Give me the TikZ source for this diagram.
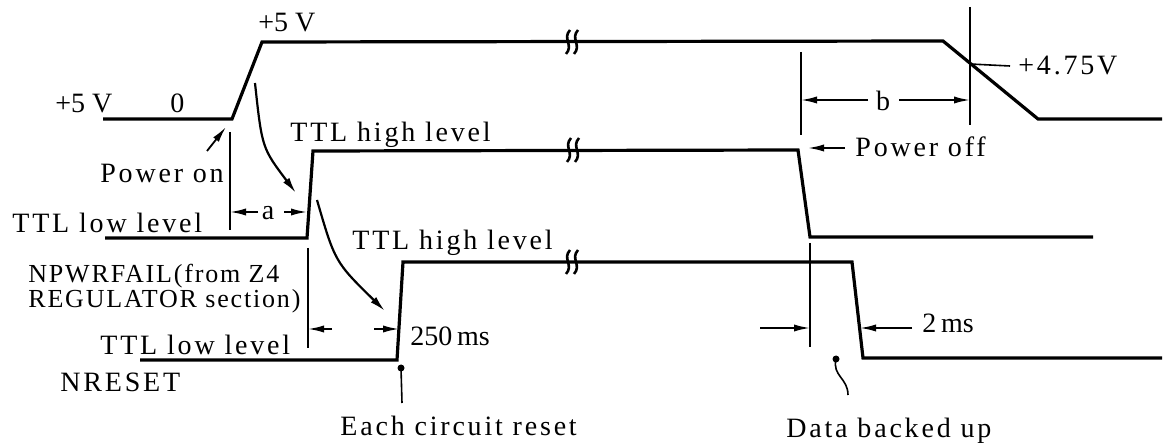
\documentclass[tikz,border=0pt]{standalone}
\usepackage{fontspec}
\setmainfont{Liberation Serif}
\newfontfamily\spacedfont[LetterSpace=10]{Liberation Serif}
\newfontfamily\tightfont[LetterSpace=7]{Liberation Serif}
\usetikzlibrary{arrows.meta,calc}
\tikzset{
  wave/.style={line width=1.6pt,line join=miter},
  refline/.style={line width=.8pt},
  dimarrow/.style={-{Latex[length=8pt,width=3.6pt]},line width=.9pt},
  bentarrow/.style={-{Latex[length=8pt,width=3.8pt]},line width=1.1pt},
  brkmark/.style={line width=1.3pt},
  lbl/.style={inner sep=0pt,anchor=base west,font=\fontsize{14}{16}\selectfont},
  slbl/.style={lbl,font=\fontsize{14}{16}\spacedfont},
  nlbl/.style={lbl,font=\fontsize{13}{15}\tightfont},
}

\begin{document}
\begin{tikzpicture}[x=0.5pt,y=-0.5pt]
  \fill[white] (0,0) rectangle (1166,448);
  \useasboundingbox (0,0) rectangle (1166,448);

  % waveforms: +5V supply, NPWRFAIL, NRESET
  \coordinate (pw0) at (103,119); \coordinate (pw1) at (232,119);
  \coordinate (pw2) at (262,42);  \coordinate (pw3) at (943,41);
  \coordinate (pw4) at (1038,119); \coordinate (pw5) at (1162,119);
  \coordinate (pf0) at (105,238); \coordinate (pf1) at (307,238);
  \coordinate (pf2) at (313,151); \coordinate (pf3) at (798,150);
  \coordinate (pf4) at (810,237); \coordinate (pf5) at (1093,237);
  \coordinate (rs0) at (140,360); \coordinate (rs1) at (397,360);
  \coordinate (rs2) at (403,262); \coordinate (rs3) at (852,262);
  \coordinate (rs4) at (863,358); \coordinate (rs5) at (1162,358);
  \draw[wave] (pw0)--(pw1)--(pw2)--(pw3)--(pw4)--(pw5);
  \draw[wave] (pf0)--(pf1)--(pf2)--(pf3)--(pf4)--(pf5);
  \draw[wave] (rs0)--(rs1)--(rs2)--(rs3)--(rs4)--(rs5);
  \foreach \bx/\by in {572/42,573/150,572/262}{
    \foreach \dx in {-4,4}{
      \draw[brkmark] (\bx+\dx+2,\by-12) .. controls (\bx+\dx-6,\by-3) and (\bx+\dx+6,\by+3) .. (\bx+\dx-2,\by+12);
    }
  }

  % reference lines
  \draw[refline] (230,132) coordinate (aT) -- (230,230) coordinate (aB);
  \draw[refline] (801,52) coordinate (bT) -- (801,135) coordinate (bB);
  \draw[refline] (970,7) coordinate (cT) -- (970,125) coordinate (cB);
  \draw[refline] (308,248) coordinate (dT) -- (308,348) coordinate (dB);
  \draw[refline] (810,243) coordinate (eT) -- (810,347) coordinate (eB);
  \coordinate (cross) at (970,64); \coordinate (tick) at (1010,66);
  \draw[refline] (cross) -- (tick);

  % labels
  \node[lbl] (vleft) at (55,113) {+5 V};
  \node[lbl] (zero) at (170,113) {0};
  \node[lbl] (vtop) at (258,32) {+5 V};
  \node[slbl] (vthr) at (1018,75) {+4.75V};
  \node[slbl] (pon) at (100,183) {Power on};
  \node[slbl] (poff) at (855,157) {Power off};
  \node[slbl] (hione) at (290,142) {TTL high level};
  \node[slbl] (loone) at (12,233) {TTL low level};
  \node[slbl] (hitwo) at (352,250) {TTL high level};
  \node[nlbl] (failA) at (28,283) {NPWRFAIL(from Z4};
  \node[nlbl] (failB) at (28,308) {REGULATOR section)};
  \node[slbl] (lotwo) at (100,355) {TTL low level};
  \node[slbl] (nrst) at (60,392) {NRESET};
  \node[lbl] (tdelay) at (410,345) {250\,ms};
  \node[lbl] (thold) at (922,333) {2\,ms};
  \node[slbl] (reset) at (340,435) {Each circuit reset};
  \node[slbl] (backup) at (786,437) {Data backed up};
  \node[lbl,anchor=center] (alen) at (268,213) {a};
  \node[lbl,anchor=center] (blen) at (883,101) {b};

  % dimension arrows
  \coordinate (aL) at (258,212); \coordinate (aR) at (284,212);
  \draw[dimarrow] (aL) -- (aB |- aL);
  \draw[dimarrow] (aR) -- (307,212);
  \coordinate (bL) at (868,100); \coordinate (bR) at (899,100);
  \draw[dimarrow] (bL) -- (bB |- bL);
  \draw[dimarrow] (bR) -- (cB |- bR);
  \coordinate (dL) at (332,329); \coordinate (dR) at (374,329);
  \draw[dimarrow] (dL) -- (dB |- dL);
  \draw[dimarrow] (dR) -- (399,329);
  \coordinate (eL) at (760,328); \coordinate (eR) at (912,328);
  \draw[dimarrow] (eL) -- (eB |- eL);
  \draw[dimarrow] (eR) -- (860,328);
  \coordinate (poffT) at (845,148);
  \draw[dimarrow] (poffT) -- (808,148);
  \coordinate (ponT) at (207,151);
  \draw[dimarrow] (ponT) -- (226,127);

  % cause and effect
  \coordinate (caA) at (255,83); \coordinate (caB) at (296,193);
  \coordinate (cbA) at (317,200); \coordinate (cbB) at (385,311);
  \draw[bentarrow] (caA) .. controls (262,148) .. (caB);
  \draw[bentarrow] (cbA) .. controls (335,262) .. (cbB);

  % event markers
  \coordinate (dotR) at (401,368); \coordinate (dotRend) at (402,403);
  \fill (dotR) circle (3.5);
  \draw[refline] (dotR) -- (dotRend);
  \coordinate (dotD) at (836,359); \coordinate (dotDend) at (848,395);
  \fill (dotD) circle (3.5);
  \draw[refline] (dotD) .. controls (832,376) and (848,378) .. (dotDend);
\end{tikzpicture}
\end{document}
